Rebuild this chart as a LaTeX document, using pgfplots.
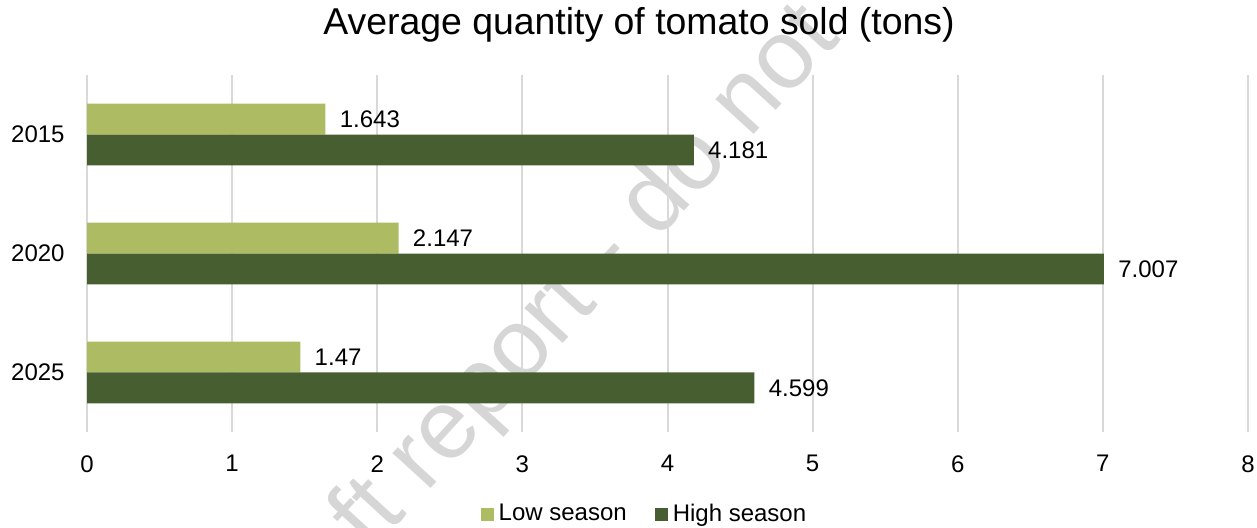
\documentclass[border=0pt]{standalone}
\usepackage{pgfplots}
\pgfplotsset{compat=1.18}
\usepackage{fontspec}
\setmainfont{Liberation Sans}
\definecolor{lowc}{HTML}{ADBB62}
\definecolor{highc}{HTML}{465E30}
\definecolor{gridc}{HTML}{D9D9D9}
\begin{document}
\begin{tikzpicture}
\useasboundingbox (0,0) rectangle (628.5pt,-264pt);
\node[rotate=47.5, anchor=base west, text=black!16, inner sep=0pt, font=\fontsize{49}{54}\selectfont] at (137.5pt,-329pt) {draft report - do not};
\node[anchor=base, inner sep=0pt, font=\fontsize{18.7}{22}\selectfont] at (319.5pt,-17.5pt) {Average quantity of tomato sold (tons)};
\begin{axis}[
  at={(43.5pt,-216pt)}, anchor=south west,
  scale only axis, width=580.5pt, height=178.5pt,
  xbar, bar width=0.26,
  xmin=0, xmax=8, ymin=-0.5, ymax=2.5,
  ytick={0,1,2}, yticklabels={2025,2020,2015},
  xtick={0,1,...,8},
  xmajorgrids, ymajorgrids=false,
  major grid style={draw=gridc, line width=1pt},
  axis line style={draw=none},
  major tick length=0pt,
  tick label style={font=\fontsize{12}{14}\selectfont, text=black},
  xticklabel style={inner sep=0pt, anchor=north, yshift=-11.5pt},
  yticklabel style={inner sep=0pt, anchor=east, xshift=-11pt},
  /pgf/number format/assume math mode=true,
  /pgf/number format/fixed,
  /pgf/number format/precision=3,
  nodes near coords,
  every node near coord/.append style={anchor=west, inner sep=0pt, xshift=7pt, font=\fontsize{12}{14}\selectfont, text=black},
  legend columns=2,
  legend image code/.code={\fill[#1] (0pt,-3.25pt) rectangle (6.5pt,3.25pt);},
  legend style={at={(0.4793,-0.2297)}, anchor=center, draw=none, fill=none, inner sep=0pt, outer sep=0pt,
    font=\fontsize{12}{14}\selectfont, nodes={inner sep=0pt},
    /tikz/every odd column/.append style={column sep=2.5pt},
    /tikz/every even column/.append style={column sep=14pt}},
  clip=false,
]
\addplot[fill=lowc, draw=none, bar shift=0.13] coordinates {(1.643,2) (2.147,1) (1.47,0)};
\addplot[fill=highc, draw=none, bar shift=-0.13] coordinates {(4.181,2) (7.007,1) (4.599,0)};
\legend{Low season, High season}
\end{axis}
\end{tikzpicture}
\end{document}
